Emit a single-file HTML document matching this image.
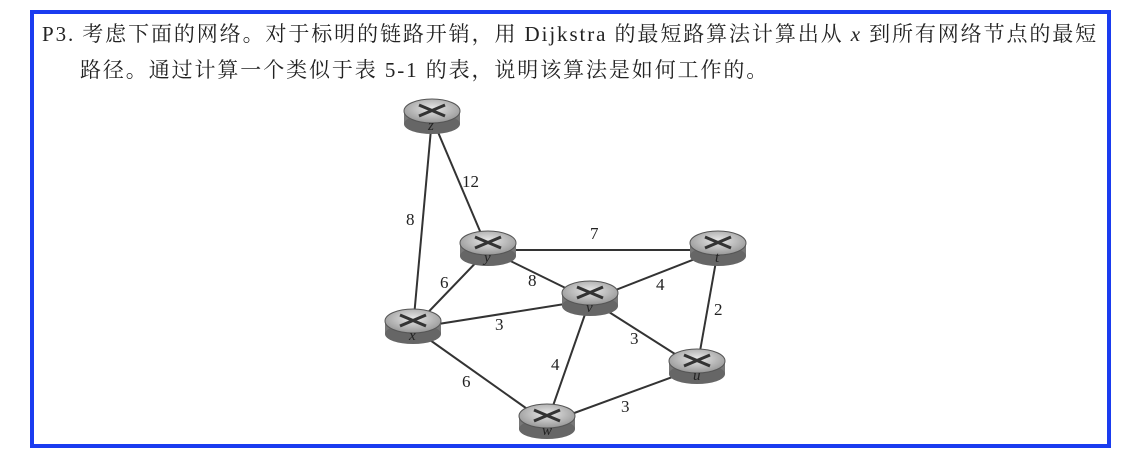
<!DOCTYPE html>
<html><head><meta charset="utf-8"><style>
body{margin:0;width:1131px;height:462px;background:#fff;overflow:hidden;font-family:"Liberation Serif","Noto Serif CJK SC",serif;}
.box{position:absolute;left:30px;top:10px;width:1073px;height:430px;border:4px solid #1a3cf0;}
.t{position:absolute;font-size:21px;color:#222;white-space:nowrap;letter-spacing:1.9px}
</style></head><body>
<div class="box"></div>
<div class="t" style="left:42px;top:18px">P3. 考虑下面的网络。对于标明的链路开销，用 Dijkstra 的最短路算法计算出从 <i>x</i> 到所有网络节点的最短</div>
<div class="t" style="left:80px;top:54px">路径。通过计算一个类似于表 5-1 的表，说明该算法是如何工作的。</div>
<svg width="1131" height="462" style="position:absolute;left:0;top:0" font-family="Liberation Serif,serif">
<defs><radialGradient id="g" cx="0.5" cy="0.4" r="0.7"><stop offset="0" stop-color="#e8e8e8"/><stop offset="1" stop-color="#8a8a8a"/></radialGradient>
<g id="r"><rect x="-28" y="-7" width="56" height="13" fill="#777"/><ellipse cx="0" cy="6" rx="28" ry="10" fill="#666"/><ellipse cx="0" cy="-7" rx="28" ry="12" fill="url(#g)" stroke="#555"/><path d="M-13,-13 L13,-2 M-13,-2 L13,-13" stroke="#333" stroke-width="3"/></g></defs>
<g stroke="#333" stroke-width="2">
<line x1="432" y1="118" x2="413" y2="328"/><line x1="432" y1="118" x2="488" y2="250"/>
<line x1="488" y1="250" x2="718" y2="250"/><line x1="488" y1="250" x2="413" y2="328"/>
<line x1="488" y1="250" x2="590" y2="300"/><line x1="413" y1="328" x2="590" y2="300"/>
<line x1="590" y1="300" x2="718" y2="250"/><line x1="718" y1="250" x2="697" y2="368"/>
<line x1="590" y1="300" x2="697" y2="368"/><line x1="590" y1="300" x2="547" y2="423"/>
<line x1="413" y1="328" x2="547" y2="423"/><line x1="547" y1="423" x2="697" y2="368"/>
</g>
<g font-size="17" fill="#222">
<text x="462" y="187">12</text><text x="406" y="225">8</text><text x="590" y="239">7</text>
<text x="440" y="288">6</text><text x="528" y="286">8</text><text x="656" y="290">4</text>
<text x="714" y="315">2</text><text x="495" y="330">3</text><text x="630" y="344">3</text>
<text x="551" y="370">4</text><text x="462" y="387">6</text><text x="621" y="412">3</text>
</g>
<g font-size="15" font-style="italic" fill="#222">
<use href="#r" x="432" y="118"/><text x="428" y="130">z</text>
<use href="#r" x="488" y="250"/><text x="484" y="262">y</text>
<use href="#r" x="718" y="250"/><text x="715" y="262">t</text>
<use href="#r" x="590" y="300"/><text x="586" y="312">v</text>
<use href="#r" x="413" y="328"/><text x="409" y="340">x</text>
<use href="#r" x="697" y="368"/><text x="693" y="380">u</text>
<use href="#r" x="547" y="423"/><text x="542" y="435">w</text>
</g>
</svg>
</body></html>
